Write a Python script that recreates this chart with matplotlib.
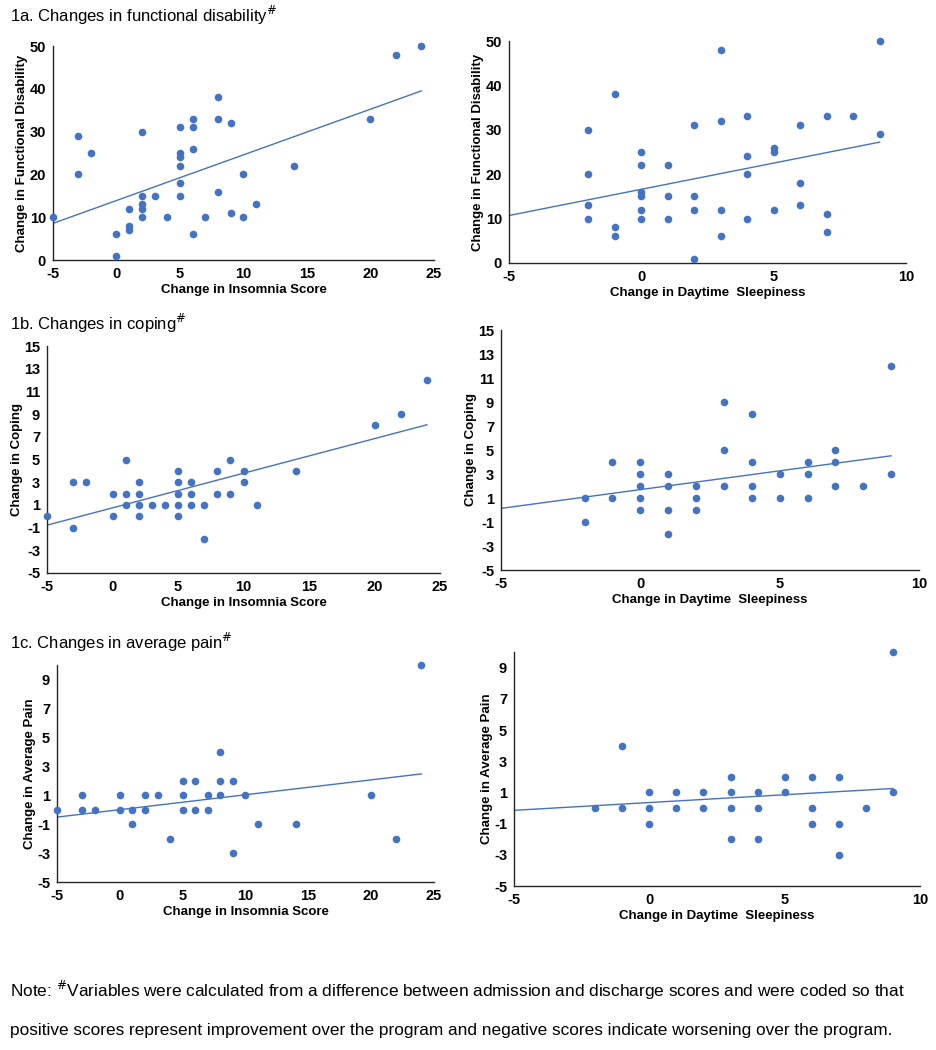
import matplotlib
matplotlib.use("Agg")
import matplotlib.pyplot as plt
import numpy as np

plt.rcParams['font.family'] = ['Liberation Sans', 'DejaVu Sans']
plt.rcParams['axes.unicode_minus'] = False

BLUE = '#4472C4'
W, H = 937, 1050

# 1a. functional disability
ins_fd_x = [-5, -3, -3, -2, 0, 0, 1, 1, 1, 2, 2, 2, 2, 2, 3, 4, 5, 5, 5, 5, 5, 5,
            6, 6, 6, 6, 7, 8, 8, 8, 9, 9, 10, 10, 11, 14, 20, 22, 24]
ins_fd_y = [10, 29, 20, 25, 6, 1, 12, 8, 7, 30, 15, 13, 12, 10, 15, 10, 31, 25, 24, 22, 18, 15,
            33, 31, 26, 6, 10, 38, 33, 16, 32, 11, 20, 10, 13, 22, 33, 48, 50]
slp_fd_x = [-2, -2, -2, -2, -1, -1, -1, 0, 0, 0, 0, 0, 0, 1, 1, 1, 2, 2, 2, 2,
            3, 3, 3, 3, 4, 4, 4, 4, 5, 5, 5, 6, 6, 6, 7, 7, 7, 8, 9, 9]
slp_fd_y = [30, 20, 13, 10, 38, 8, 6, 25, 22, 16, 15, 12, 10, 22, 15, 10, 31, 15, 12, 1,
            48, 32, 12, 6, 33, 24, 20, 10, 26, 25, 12, 31, 18, 13, 33, 11, 7, 33, 50, 29]

# 1b. coping
ins_cop_x = [-5, -3, -3, -2, 0, 0, 1, 1, 1, 2, 2, 2, 2, 3, 4, 5, 5, 5, 5, 5,
             6, 6, 6, 7, 7, 8, 8, 9, 9, 10, 10, 11, 14, 20, 22, 24]
ins_cop_y = [0, 3, -1, 3, 2, 0, 5, 2, 1, 3, 2, 1, 0, 1, 1, 4, 3, 2, 1, 0,
             3, 2, 1, 1, -2, 4, 2, 5, 2, 4, 3, 1, 4, 8, 9, 12]
slp_cop_x = [-2, -2, -1, -1, 0, 0, 0, 0, 0, 1, 1, 1, 1, 2, 2, 2, 3, 3, 3,
             4, 4, 4, 4, 5, 5, 6, 6, 6, 7, 7, 7, 8, 9, 9]
slp_cop_y = [1, -1, 4, 1, 4, 3, 2, 1, 0, 3, 2, 0, -2, 2, 1, 0, 9, 5, 2,
             8, 4, 2, 1, 3, 1, 4, 3, 1, 5, 4, 2, 2, 12, 3]

# 1c. average pain
ins_pain_x = [-5, -3, -3, -2, 0, 0, 1, 1, 2, 2, 3, 4, 5, 5, 5, 6, 6, 7, 7,
              8, 8, 8, 9, 9, 10, 11, 14, 20, 22, 24]
ins_pain_y = [0, 1, 0, 0, 1, 0, 0, -1, 1, 0, 1, -2, 2, 1, 0, 2, 0, 1, 0,
              4, 2, 1, 2, -3, 1, -1, -1, 1, -2, 10]
slp_pain_x = [-2, -1, -1, 0, 0, 0, 1, 1, 2, 2, 3, 3, 3, 3, 4, 4, 4,
              5, 5, 6, 6, 6, 7, 7, 7, 8, 9, 9]
slp_pain_y = [0, 4, 0, 1, 0, -1, 1, 0, 1, 0, 2, 1, 0, -2, 1, 0, -2,
              2, 1, 2, 0, -1, 2, -1, -3, 0, 10, 1]

# linear trendlines as shown (slope, intercept)
trend = {
    'ins_fd': (1.067, 13.9), 'slp_fd': (1.18, 16.6),
    'ins_cop': (0.305, 0.74), 'slp_cop': (0.313, 1.70),
    'ins_pain': (0.103, 0.0), 'slp_pain': (0.10, 0.35),
}

xl_ins = 'Change in Insomnia Score'
xl_slp = 'Change in Daytime  Sleepiness'

panels = [
    # x, y, trend key, xlabel, ylabel, xlim, xticks, ylim, yticks, pixel box (l, t, r, b)
    (ins_fd_x, ins_fd_y, 'ins_fd', xl_ins, 'Change in Functional Disability',
     (-5, 25), np.arange(-5, 26, 5), (0, 50), np.arange(0, 51, 10), (53, 46, 434, 260)),
    (slp_fd_x, slp_fd_y, 'slp_fd', xl_slp, 'Change in Functional Disability',
     (-5, 10), np.arange(-5, 11, 5), (0, 50), np.arange(0, 51, 10), (509, 41, 906, 263)),
    (ins_cop_x, ins_cop_y, 'ins_cop', xl_ins, 'Change in Coping',
     (-5, 25), np.arange(-5, 26, 5), (-5, 15), np.arange(-5, 16, 2), (47, 346, 440, 573)),
    (slp_cop_x, slp_cop_y, 'slp_cop', xl_slp, 'Change in Coping',
     (-5, 10), np.arange(-5, 11, 5), (-5, 15), np.arange(-5, 16, 2), (501, 330, 919, 570)),
    (ins_pain_x, ins_pain_y, 'ins_pain', xl_ins, 'Change in Average Pain',
     (-5, 25), np.arange(-5, 26, 5), (-5, 10), np.arange(-5, 10, 2), (57, 665, 434, 882)),
    (slp_pain_x, slp_pain_y, 'slp_pain', xl_slp, 'Change in Average Pain',
     (-5, 10), np.arange(-5, 11, 5), (-5, 10), np.arange(-5, 10, 2), (514, 652, 920, 886)),
]

fig = plt.figure(figsize=(W / 100, H / 100), dpi=100)

for x, y, key, xlab, ylab, xlim, xt, ylim, yt, box in panels:
    l, t, r, b = box
    ax = fig.add_axes([l / W, 1 - b / H, (r - l) / W, (b - t) / H])
    ax.scatter(x, y, s=30, color=BLUE, zorder=3, clip_on=False, linewidths=0)
    m, c = trend[key]
    tx = np.array([xlim[0], max(x)])
    ax.plot(tx, m * tx + c, color=BLUE, lw=1.0, zorder=2)
    ax.set_xlim(*xlim)
    ax.set_ylim(*ylim)
    ax.set_xticks(xt)
    ax.set_yticks(yt)
    ax.tick_params(length=0, labelsize=10.5, pad=5)
    for lab in ax.get_xticklabels() + ax.get_yticklabels():
        lab.set_fontweight('bold')
    ax.set_xlabel(xlab, fontsize=9.5, fontweight='bold', labelpad=2)
    ax.set_ylabel(ylab, fontsize=9.5, fontweight='bold', labelpad=1)
    for s in ['top', 'right']:
        ax.spines[s].set_visible(False)
    for s in ['left', 'bottom']:
        ax.spines[s].set_color('#262626')
        ax.spines[s].set_linewidth(1.0)
    ax.patch.set_alpha(0)

titles = [
    (15, '1a. Changes in functional disability$^{\\#}$'),
    (323, '1b. Changes in coping$^{\\#}$'),
    (642, '1c. Changes in average pain$^{\\#}$'),
]
for yy, txt in titles:
    fig.text(10 / W, 1 - yy / H, txt, fontsize=12, va='center', ha='left')

fig.text(10 / W, 1 - 990 / H,
         'Note: $^{\\#}$Variables were calculated from a difference between admission and discharge scores and were coded so that',
         fontsize=12.4, va='center', ha='left')
fig.text(10 / W, 1 - 1031 / H,
         'positive scores represent improvement over the program and negative scores indicate worsening over the program.',
         fontsize=12.4, va='center', ha='left')

fig.savefig('out.png', dpi=100)
